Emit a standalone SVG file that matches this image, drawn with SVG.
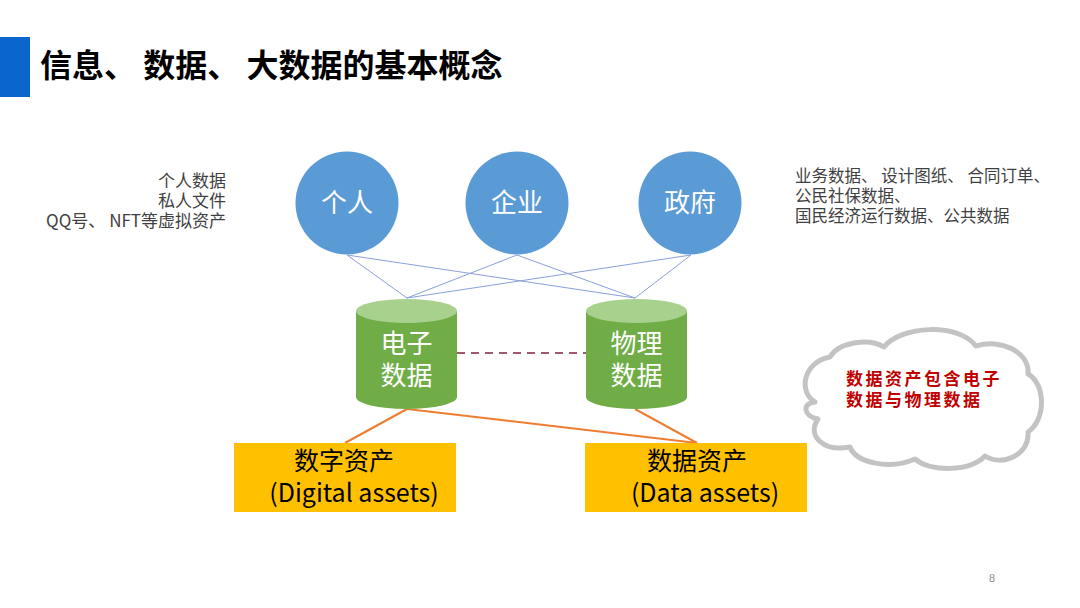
<svg xmlns="http://www.w3.org/2000/svg" width="1080" height="608" viewBox="0 0 1080 608">
<style>
.cjk{font-family:"Noto Sans CJK SC","Liberation Sans",sans-serif}
.side{fill:#404040}
.ctext{font-size:26px;fill:#fff;text-anchor:middle}
.btext{font-size:25px;fill:#000;text-anchor:middle}
.circ{fill:#5b9bd5}
.cylb{fill:#70ad47}
.cylt{fill:#a9d18e}
.box{fill:#ffc000}
.thin{stroke:#8b9fda;stroke-width:1;fill:none}
.orange{stroke:#ed7d31;stroke-width:2;fill:none}
.note{font-size:17px;font-weight:bold;fill:#c00000;letter-spacing:2.5px}
</style>
<rect width="1080" height="608" fill="#fff"/>
<g id="title">
<rect x="0" y="37" width="30" height="60" fill="#0a66cc"/>
<text x="40" y="77" class="cjk" font-size="32" font-weight="bold" fill="#000">信息、 数据、 大数据的基本概念</text>
</g>
<g id="connectors">
<line class="thin" x1="347" y1="255" x2="407" y2="298"/>
<line class="thin" x1="347" y1="255" x2="635" y2="298"/>
<line class="thin" x1="517" y1="255" x2="407" y2="298"/>
<line class="thin" x1="517" y1="255" x2="635" y2="298"/>
<line class="thin" x1="691" y1="255" x2="407" y2="298"/>
<line class="thin" x1="691" y1="255" x2="635" y2="298"/>
<line x1="457" y1="353" x2="586" y2="353" stroke="#a0596b" stroke-width="2" stroke-dasharray="8 6"/>
<line class="orange" x1="407" y1="409" x2="345" y2="443"/>
<line class="orange" x1="407" y1="409" x2="697" y2="443"/>
<line class="orange" x1="635" y1="409" x2="697" y2="443"/>
</g>
<g id="left-notes" class="cjk side" font-size="17" text-anchor="end">
<text x="226" y="187">个人数据</text>
<text x="226" y="207">私人文件</text>
<text x="226" y="227">QQ号、 NFT等虚拟资产</text>
</g>
<g id="right-notes" class="cjk side" font-size="16.5">
<text x="795" y="182">业务数据、 设计图纸、 合同订单、</text>
<text x="795" y="202">公民社保数据、</text>
<text x="795" y="222">国民经济运行数据、公共数据</text>
</g>
<g id="node-geren">
<circle class="circ" cx="347" cy="203" r="51.5"/>
<text x="347" y="212" class="cjk ctext">个人</text>
</g>
<g id="node-qiye">
<circle class="circ" cx="517" cy="203" r="51.5"/>
<text x="517" y="212" class="cjk ctext">企业</text>
</g>
<g id="node-zhengfu">
<circle class="circ" cx="690" cy="203" r="51.5"/>
<text x="690" y="212" class="cjk ctext">政府</text>
</g>
<g id="node-dianzi">
<path class="cylb" d="M356,311 L356,397 A50.5,12 0 0 0 457,397 L457,311 Z"/>
<ellipse class="cylt" cx="406.5" cy="311" rx="50.5" ry="12"/>
<text x="406.5" y="353" class="cjk ctext">电子</text>
<text x="406.5" y="385" class="cjk ctext">数据</text>
</g>
<g id="node-wuli">
<path class="cylb" d="M586,311 L586,397 A50.5,12 0 0 0 687,397 L687,311 Z"/>
<ellipse class="cylt" cx="636.5" cy="311" rx="50.5" ry="12"/>
<text x="636.5" y="353" class="cjk ctext">物理</text>
<text x="636.5" y="385" class="cjk ctext">数据</text>
</g>
<g id="node-digital">
<rect class="box" x="234" y="443" width="222" height="69"/>
<text x="344" y="470" class="cjk btext">数字资产</text>
<text x="354" y="502" class="cjk btext">(Digital assets)</text>
</g>
<g id="node-data">
<rect class="box" x="585" y="443" width="222" height="69"/>
<text x="697" y="470" class="cjk btext">数据资产</text>
<text x="705" y="502" class="cjk btext">(Data assets)</text>
</g>
<g id="cloud">
<path d="M815,402 C798,392 803,362 830,357 C838,343 868,337 884,347 C900,326 958,322 976,346 C1000,338 1030,352 1028,374 C1046,384 1046,420 1028,432 C1030,455 1002,467 985,456 C970,472 930,472 915,459 C890,470 856,463 850,447 C825,452 806,437 818,419 C803,416 802,403 815,402 Z" fill="#fff" stroke="#c3c3c3" stroke-width="5" stroke-linejoin="round"/>
<text x="846" y="385" class="cjk note">数据资产包含电子</text>
<text x="846" y="406" class="cjk note">数据与物理数据</text>
</g>
<text x="992" y="582" font-family="Liberation Serif, serif" font-size="12" fill="#8c8c8c" text-anchor="middle">8</text>
</svg>
